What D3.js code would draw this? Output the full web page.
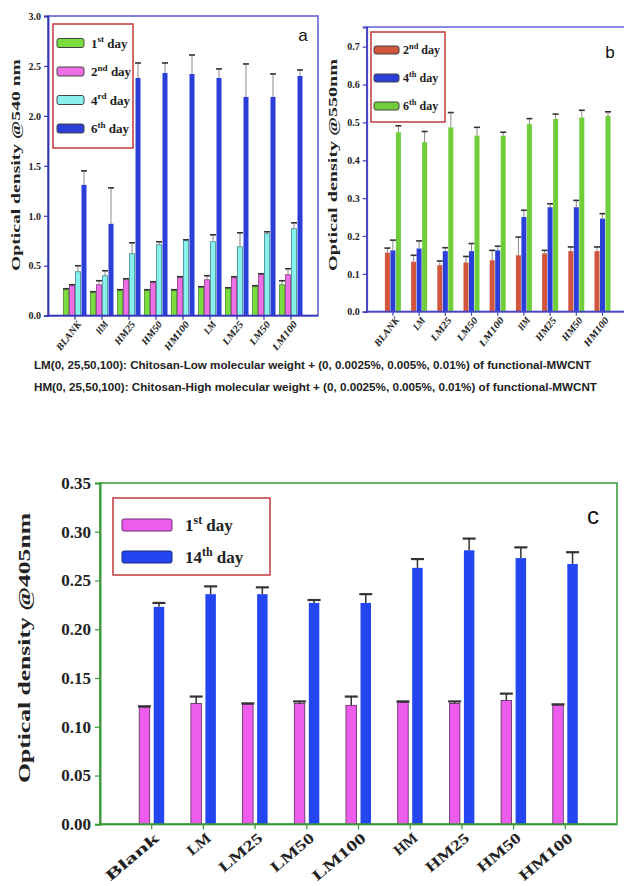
<!DOCTYPE html>
<html><head><meta charset="utf-8">
<script src="https://cdn.jsdelivr.net/npm/d3@7"></script>
<style>body{margin:0;background:#fff}svg{display:block}</style>
</head><body><svg id="c" width="624" height="886"></svg>
<script>
// ---------- data ----------
const catsA = ["BLANK","HM","HM25","HM50","HM100","LM","LM25","LM50","LM100"];
const a1st = [0.26,0.23,0.25,0.25,0.25,0.28,0.27,0.29,0.31];
const a1stErr = [0.01,0.01,0.01,0.01,0.01,0.01,0.01,0.01,0.04];
const a2nd = [0.30,0.31,0.36,0.33,0.38,0.36,0.38,0.41,0.41];
const a2ndErr = [0.01,0.04,0.01,0.01,0.01,0.04,0.01,0.01,0.06];
const a4th = [0.44,0.40,0.62,0.71,0.75,0.74,0.69,0.82,0.87];
const a4thErr = [0.06,0.05,0.11,0.03,0.01,0.07,0.14,0.02,0.06];
const a6th = [1.31,0.92,2.38,2.43,2.42,2.38,2.19,2.19,2.40];
const a6thErr = [0.14,0.36,0.15,0.10,0.19,0.09,0.33,0.23,0.06];
const ticksA = [0,0.5,1.0,1.5,2.0,2.5,3.0];

const catsB = ["BLANK","LM","LM25","LM50","LM100","HM","HM25","HM50","HM100"];
const b2nd = [0.156,0.132,0.123,0.130,0.136,0.149,0.154,0.160,0.160];
const b2ndErr = [0.012,0.017,0.011,0.016,0.026,0.048,0.008,0.011,0.011];
const b4th = [0.162,0.167,0.160,0.160,0.162,0.250,0.276,0.276,0.246];
const b4thErr = [0.027,0.020,0.009,0.020,0.011,0.018,0.009,0.018,0.013];
const b6th = [0.474,0.448,0.487,0.465,0.465,0.496,0.509,0.513,0.517];
const b6thErr = [0.017,0.028,0.039,0.022,0.009,0.014,0.013,0.019,0.011];
const ticksB = [0,0.1,0.2,0.3,0.4,0.5,0.6,0.7];

const catsC = ["Blank","LM","LM25","LM50","LM100","HM","HM25","HM50","HM100"];
const c1st = [0.120,0.124,0.123,0.124,0.122,0.125,0.124,0.127,0.122];
const c1stErr = [0.001,0.007,0.001,0.002,0.009,0.001,0.002,0.007,0.001];
const c14th = [0.223,0.236,0.236,0.227,0.227,0.263,0.281,0.273,0.267];
const c14thErr = [0.004,0.008,0.007,0.003,0.009,0.009,0.012,0.011,0.012];
const ticksC = [0,0.05,0.10,0.15,0.20,0.25,0.30,0.35];

const captions = [
 "LM(0, 25,50,100): Chitosan-Low molecular weight + (0, 0.0025%, 0.005%, 0.01%) of functional-MWCNT",
 "HM(0, 25,50,100): Chitosan-High molecular weight + (0, 0.0025%, 0.005%, 0.01%) of functional-MWCNT"
];

const svg = d3.select("#c");
const SERIF = "'Liberation Serif','Times New Roman',serif";
const SANS = "'Liberation Sans',Arial,sans-serif";

function supText(sel, base, sup, rest, fs){
  sel.append("tspan").text(base);
  sel.append("tspan").attr("dy", -fs*0.4).attr("font-size", fs*0.7).text(sup);
  sel.append("tspan").attr("dy", fs*0.4).text(rest);
}

function panel(o){
  const g = svg.append("g");
  const x = d3.scaleBand().domain(o.cats).range([o.x0,o.x1]).paddingInner(0).paddingOuter(0.5);
  const y = d3.scaleLinear().domain(o.dom).range([o.yb,o.yt]);
  g.append("rect").attr("x",o.x0).attr("y",o.yt).attr("width",o.xr-o.x0).attr("height",o.yb-o.yt)
    .attr("fill","none").attr("stroke",o.frame).attr("stroke-width",o.frameW);
  o.series.forEach((s,si)=>{
    const off = (si - (o.series.length-1)/2)*o.step;
    const cx = i => x(o.cats[i])+x.bandwidth()/2+off;
    g.selectAll(null).data(s.v).enter().append("rect")
      .attr("x",(d,i)=>cx(i)-o.bw/2)
      .attr("y",d=>y(d)).attr("width",o.bw).attr("height",d=>y(0)-y(d))
      .attr("fill",s.c).attr("stroke",s.sc||"none").attr("stroke-width",s.sc?0.8:0);
    g.selectAll(null).data(s.v).enter().append("line")
      .attr("x1",(d,i)=>cx(i)).attr("x2",(d,i)=>cx(i))
      .attr("y1",d=>y(d)).attr("y2",(d,i)=>y(d+s.e[i]))
      .attr("stroke",o.errC).attr("stroke-width",o.errW);
    g.selectAll(null).data(s.v).enter().append("line")
      .attr("x1",(d,i)=>cx(i)-o.capW/2).attr("x2",(d,i)=>cx(i)+o.capW/2)
      .attr("y1",(d,i)=>y(d+s.e[i])).attr("y2",(d,i)=>y(d+s.e[i]))
      .attr("stroke","#333").attr("stroke-width",o.capT);
  });
  const ya = g.append("g").attr("transform",`translate(${o.x0},0)`)
    .call(d3.axisLeft(y).tickValues(o.ticks).tickFormat(d3.format(o.fmt)).tickSize(o.tick).tickPadding(o.tpad));
  ya.select(".domain").attr("stroke",o.axis).attr("stroke-width",o.axisW);
  ya.selectAll(".tick line").attr("stroke",o.axis).attr("stroke-width",1.2);
  ya.selectAll(".tick text").attr("font-family",SERIF).attr("font-weight","bold").attr("font-size",o.tfs).attr("fill","#222");
  const xa = g.append("g").attr("transform",`translate(0,${o.yb})`)
    .call(d3.axisBottom(x).tickSize(o.tick).tickPadding(2));
  xa.select(".domain").remove();
  g.append("line").attr("x1",o.x0).attr("x2",o.xr).attr("y1",o.yb).attr("y2",o.yb).attr("stroke",o.axis).attr("stroke-width",o.axisW);
  xa.selectAll(".tick line").attr("stroke",o.axis).attr("stroke-width",1.2);
  xa.selectAll(".tick text").attr("font-family",SERIF).attr("font-weight","bold")
    .attr("font-style",o.italic?"italic":"normal").attr("font-size",o.xfs).attr("fill","#222")
    .attr("text-anchor","end").attr("dy",0)
    .attr("transform",`translate(${o.xdx},${o.xdy}) rotate(${o.rot})`)
    .attr("textLength",d=>o.xlen(d)).attr("lengthAdjust","spacingAndGlyphs");
  g.append("text").attr("transform",`translate(${o.ylx},${o.yly}) rotate(-90)`)
    .attr("text-anchor","middle").attr("dominant-baseline","central")
    .attr("font-family",SERIF).attr("font-weight","bold").attr("font-size",o.ylfs).attr("fill","#222")
    .attr("textLength",o.yllen).attr("lengthAdjust","spacingAndGlyphs").text(o.ylabel);
  g.append("text").attr("x",o.lx).attr("y",o.ly).attr("font-family",SANS).attr("font-size",o.lfs)
    .attr("text-anchor","middle").attr("fill","#111").text(o.letter);
  const L = o.legend;
  g.append("rect").attr("x",L.x).attr("y",L.y).attr("width",L.w).attr("height",L.h)
    .attr("fill","#fff").attr("stroke","#c0393b").attr("stroke-width",1.5);
  o.series.forEach((s,si)=>{
    const cy = L.y0 + si*L.dy;
    g.append("rect").attr("x",L.sx).attr("y",cy-L.sh/2).attr("width",L.sw).attr("height",L.sh)
      .attr("rx",2).attr("fill",s.c).attr("stroke",s.lc||"#444").attr("stroke-width",1);
    const t = g.append("text").attr("x",L.tx).attr("y",cy+L.fs*0.35).attr("font-family",SERIF)
      .attr("font-weight","bold").attr("font-size",L.fs).attr("fill","#222");
    supText(t, s.n[0], s.n[1], s.n[2], L.fs);
  });
}

// Panel a
panel({
  cats:catsA, x0:48, x1:318, xr:318, yb:315.7, yt:16, dom:[0,3.0], ticks:ticksA, fmt:".1f",
  frame:"#5a5ad0", frameW:1.5, axis:"#3535b5", axisW:1.8, tick:4, tpad:3, tfs:10,
  step:6, bw:5, capW:6, capT:1.6, errC:"#8a8a8a", errW:1,
  series:[
    {v:a1st,e:a1stErr,c:"#7bdc3f",sc:"#4a8a2a",n:["1","st"," day"]},
    {v:a2nd,e:a2ndErr,c:"#ee6ee6",sc:"#8a3a8a",n:["2","nd"," day"]},
    {v:a4th,e:a4thErr,c:"#8af0ee",sc:"#3a8a8a",n:["4","rd"," day"]},
    {v:a6th,e:a6thErr,c:"#2a3fd8",n:["6","th"," day"]}
  ],
  italic:true, xfs:10, rot:-52, xdx:2, xdy:5, xlen:d=>d.length*6.8,
  ylx:16, yly:165, ylfs:12, yllen:212, ylabel:"Optical density @540 nm",
  letter:"a", lx:303, ly:41, lfs:17,
  legend:{x:53,y:24,w:80,h:124,y0:43,dy:28.5,sx:57,sw:27,sh:9,tx:91,fs:13}
});

// Panel b
panel({
  cats:catsB, x0:366.7, x1:628.7, xr:640, yb:311.7, yt:27, dom:[0,0.752], ticks:ticksB, fmt:".1f",
  frame:"#6262da", frameW:1.5, axis:"#4545c5", axisW:1.8, tick:4, tpad:3, tfs:10,
  step:5.5, bw:5, capW:6, capT:1.6, errC:"#8a8a8a", errW:1,
  series:[
    {v:b2nd,e:b2ndErr,c:"#d2553d",n:["2","nd"," day"]},
    {v:b4th,e:b4thErr,c:"#2a3fd8",n:["4","th"," day"]},
    {v:b6th,e:b6thErr,c:"#6fce3a",n:["6","th"," day"]}
  ],
  italic:true, xfs:10, rot:-52, xdx:2, xdy:5, xlen:d=>d.length*6.8,
  ylx:333, yly:165, ylfs:12, yllen:212, ylabel:"Optical density @550nm",
  letter:"b", lx:610, ly:58, lfs:17,
  legend:{x:371,y:32,w:74,h:90,y0:50,dy:28,sx:374,sw:25,sh:8,tx:403,fs:12}
});

// Panel c
panel({
  cats:catsC, x0:100, x1:617, xr:617, yb:824.3, yt:483, dom:[0,0.35], ticks:ticksC, fmt:".2f",
  frame:"#3f9f3f", frameW:1.6, axis:"#3a993a", axisW:2, tick:5, tpad:4, tfs:17,
  step:14.5, bw:10.5, capW:13, capT:2.2, errC:"#333", errW:1.5,
  series:[
    {v:c1st,e:c1stErr,c:"#ee5cee",sc:"#5a2a5a",n:["1","st"," day"],lc:"#6a2a6a"},
    {v:c14th,e:c14thErr,c:"#2446f0",n:["14","th"," day"],lc:"#1a2a80"}
  ],
  italic:false, xfs:15, rot:-40, xdx:4, xdy:10, xlen:d=>d.length*13,
  ylx:24, yly:648, ylfs:17, yllen:270, ylabel:"Optical density @405nm",
  letter:"c", lx:593, ly:524, lfs:24,
  legend:{x:113,y:498,w:157,h:77,y0:525,dy:32,sx:122,sw:50,sh:12,tx:185,fs:17}
});

// captions
captions.forEach((t,i)=>{
  svg.append("text").attr("x",34).attr("y",369+i*22).attr("font-family","'Liberation Sans Narrow','Arial Narrow',"+SANS)
    .attr("font-weight","bold").attr("font-size",11.5).attr("fill","#222")
    .attr("textLength",i===0?557:563).attr("lengthAdjust","spacingAndGlyphs").text(t);
});
</script></body></html>
